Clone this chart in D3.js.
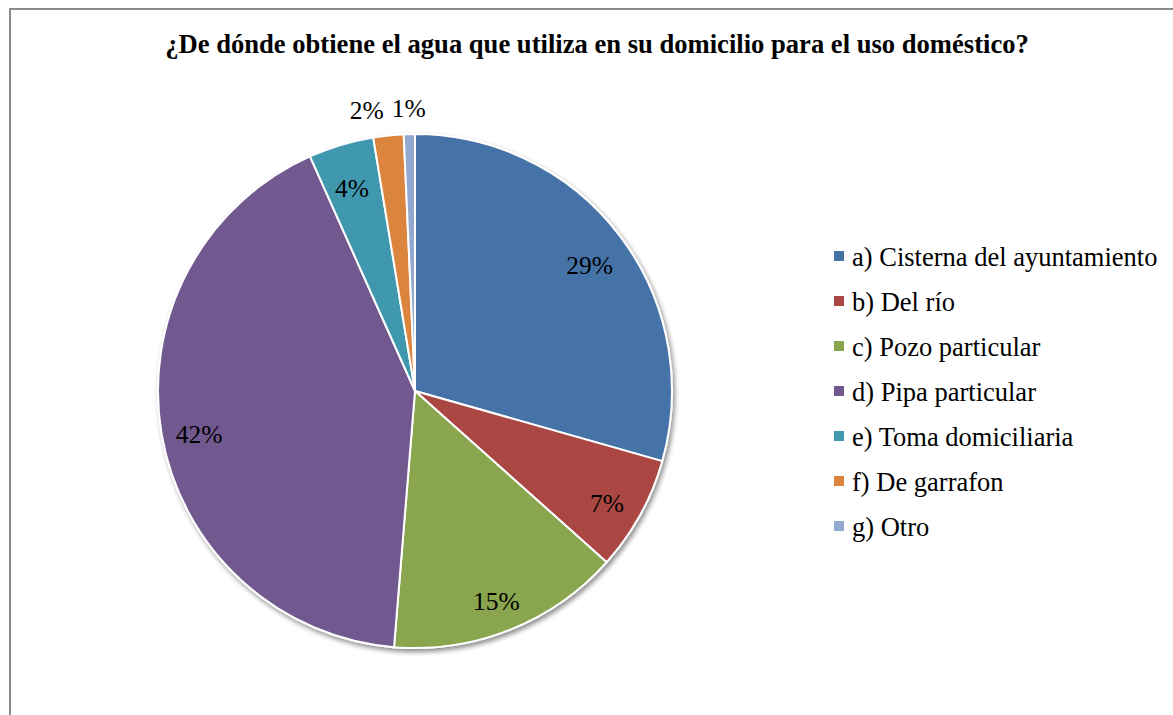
<!DOCTYPE html>
<html>
<head>
<meta charset="utf-8">
<script src="https://cdn.jsdelivr.net/npm/d3@7"></script>
<style>
  body { margin: 0; background: #fff; }
</style>
</head>
<body>
<div id="chart"></div>
<script>
// data
var categories = ["a) Cisterna del ayuntamiento", "b) Del río", "c) Pozo particular",
  "d) Pipa particular", "e) Toma domiciliaria", "f) De garrafon", "g) Otro"];
var values = [29.4, 7.2, 14.7, 42.0, 4.1, 1.9, 0.7];
var colors = ["#4572A7", "#AA4643", "#89A54E", "#71588F", "#4198AF", "#DB843D", "#93A9CF"];
var outsideLabel = [false, false, false, false, false, true, true];

var svgWidth = 1173;
var svgHeight = 715;
var serif = "Liberation Serif";

var svg = d3.select("#chart")
  .append("svg")
  .attr("width", svgWidth)
  .attr("height", svgHeight);

// frame
svg.append("rect")
  .attr("x", 10)
  .attr("y", 9)
  .attr("width", 1200)
  .attr("height", 750)
  .attr("fill", "none")
  .attr("stroke", "#8c8c8c")
  .attr("stroke-width", 2);

// title
svg.append("text")
  .attr("x", 597)
  .attr("y", 53)
  .attr("text-anchor", "middle")
  .attr("font-family", serif)
  .attr("font-size", 26.6)
  .attr("font-weight", "bold")
  .text("¿De dónde obtiene el agua que utiliza en su domicilio para el uso doméstico?");

// shadow
var defs = svg.append("defs");
var filter = defs.append("filter").attr("id", "shadow")
  .attr("x", "-10%").attr("y", "-10%").attr("width", "130%").attr("height", "130%");
filter.append("feGaussianBlur").attr("in", "SourceAlpha").attr("stdDeviation", 2.5);
filter.append("feOffset").attr("dx", 2).attr("dy", 3).attr("result", "off");
filter.append("feComponentTransfer").append("feFuncA").attr("type", "linear").attr("slope", 0.45);
var merge = filter.append("feMerge");
merge.append("feMergeNode");
merge.append("feMergeNode").attr("in", "SourceGraphic");

var radius = 257;
var cx = 415, cy = 391;

var pie = d3.pie().sort(null).value(d => d);
var arcs = pie(values);
var total = d3.sum(values);
var fmt = d3.format(".0%");

var arc = d3.arc().innerRadius(0).outerRadius(radius);
var labelArc = d3.arc().innerRadius(219).outerRadius(219);
var outArc = d3.arc().innerRadius(289).outerRadius(289);

var pieGroup = svg.append("g")
  .attr("transform", `translate(${cx}, ${cy})`);

pieGroup.append("g")
  .attr("filter", "url(#shadow)")
  .selectAll("path")
  .data(arcs)
  .enter()
  .append("path")
  .attr("d", arc)
  .attr("fill", (d, i) => colors[i])
  .attr("stroke", "#fff")
  .attr("stroke-width", 2)
  .attr("stroke-linejoin", "round");

var labels = pieGroup.selectAll(".lbl")
  .data(arcs)
  .enter()
  .append("text")
  .attr("class", "lbl")
  .attr("text-anchor", "middle")
  .attr("dy", "0.6em")
  .attr("font-family", serif)
  .attr("font-size", 25.5)
  .text(d => fmt(d.value / total));

// place labels; push crowded outside labels apart (right to left)
var pos = arcs.map((d, i) => (outsideLabel[i] ? outArc : labelArc).centroid(d));
var widths = labels.nodes().map(n => n.getComputedTextLength());
for (var i = arcs.length - 2; i >= 0; i--) {
  if (!outsideLabel[i] || !outsideLabel[i + 1]) continue;
  var maxX = pos[i + 1][0] - widths[i + 1] / 2 - 8 - widths[i] / 2;
  if (pos[i][0] > maxX) pos[i][0] = maxX;
}
labels.attr("transform", (d, i) => `translate(${pos[i]})`);

// legend
var legend = svg.append("g")
  .attr("transform", "translate(834, 256)");

var rows = legend.selectAll("g")
  .data(categories)
  .enter()
  .append("g")
  .attr("transform", (d, i) => `translate(0, ${i * 45})`);

rows.append("rect")
  .attr("x", 0)
  .attr("y", -5)
  .attr("width", 10)
  .attr("height", 10)
  .attr("fill", (d, i) => colors[i]);

rows.append("text")
  .attr("x", 18)
  .attr("dy", "0.36em")
  .attr("font-family", serif)
  .attr("font-size", 26.5)
  .text(d => d);
</script>
</body>
</html>
